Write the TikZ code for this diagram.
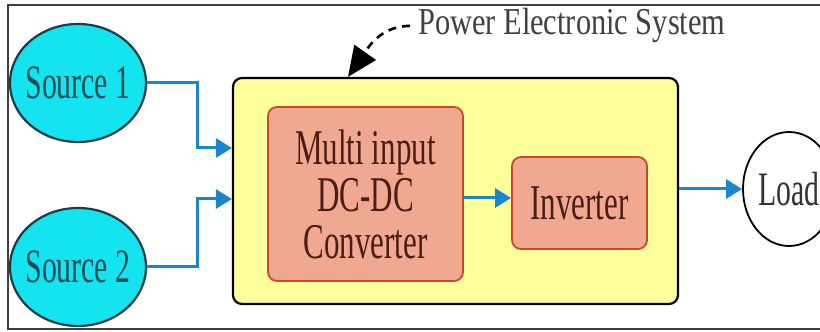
\documentclass[tikz,border=0pt]{standalone}
\usepackage{fontspec}
\setmainfont{Liberation Serif}[FakeStretch=0.62]
\newfontfamily\titlefont{Liberation Serif}[FakeStretch=0.8]
\usetikzlibrary{shapes.geometric, positioning, arrows.meta}
\definecolor{srccyan}{RGB}{20,228,240}
\definecolor{srcedge}{RGB}{30,60,70}
\definecolor{srctext}{RGB}{25,75,85}
\definecolor{pesyellow}{RGB}{255,255,155}
\definecolor{convsalmon}{RGB}{240,168,145}
\definecolor{convedge}{RGB}{205,70,50}
\definecolor{convtext}{RGB}{75,30,20}
\definecolor{flowblue}{RGB}{25,135,205}

\begin{document}
\begin{tikzpicture}[x=1pt, y=1pt,
  src/.style={ellipse, draw=srcedge, line width=2.2pt, fill=srccyan,
    minimum width=136pt, minimum height=118pt, inner xsep=-12pt, inner ysep=0pt,
    text=srctext, font=\fontsize{48}{48}\selectfont},
  box/.style={rectangle, draw=convedge, line width=1.8pt, fill=convsalmon,
    rounded corners=9pt, inner sep=0pt, text=convtext, align=center,
    font=\fontsize{50}{47}\selectfont},
  flow/.style={-{Triangle[length=16pt, width=19pt]}, flowblue, line width=3pt}
]
\useasboundingbox (0,0) rectangle (820,332);
\clip (0,0) rectangle (820,332);
\draw[line width=1.8pt, black!75] (8,3) rectangle (840,327);

\node[src] (S1) at (78,249) {Source 1};
\node[src] (S2) at (78,65) {Source 2};
\node[rectangle, draw, line width=2.2pt, fill=pesyellow, rounded corners=9pt,
  minimum width=445pt, minimum height=226pt] (PES) at (455.5,141) {};
\node[box, minimum width=195pt, minimum height=174pt] (C) at (365.5,138)
  {Multi input\\DC-DC\\Converter};
\node[box, minimum width=135pt, minimum height=92pt] (I) at (579.5,129) {Inverter};
\node[ellipse, draw, line width=1.8pt, minimum width=92pt, minimum height=114pt,
  inner sep=0pt, text=black!80, font=\fontsize{48}{48}\selectfont] (L) at (789,143) {Load};
\node[anchor=base west, inner sep=0pt, text=black!75,
  font=\titlefont\fontsize{38}{38}\selectfont] (T) at (418,297) {Power Electronic System};

\draw[flow] (S1.east) -- ++(50,0) |- ([yshift=43pt]PES.west);
\draw[flow] (S2.east) -- ++(50,0) |- ([yshift=-8pt]PES.west);
\draw[flow] ([yshift=-4pt]C.east) -- ([yshift=5pt]I.west);
\draw[flow] ([yshift=2pt]PES.east) -- (L.west);
\draw[dash pattern=on 8pt off 6pt, line width=2.6pt,
  -{Triangle[length=30pt, width=26pt]}]
  ([xshift=-8pt]T.west) to[out=180, in=55] ([xshift=-107.5pt]PES.north);
\end{tikzpicture}
\end{document}
